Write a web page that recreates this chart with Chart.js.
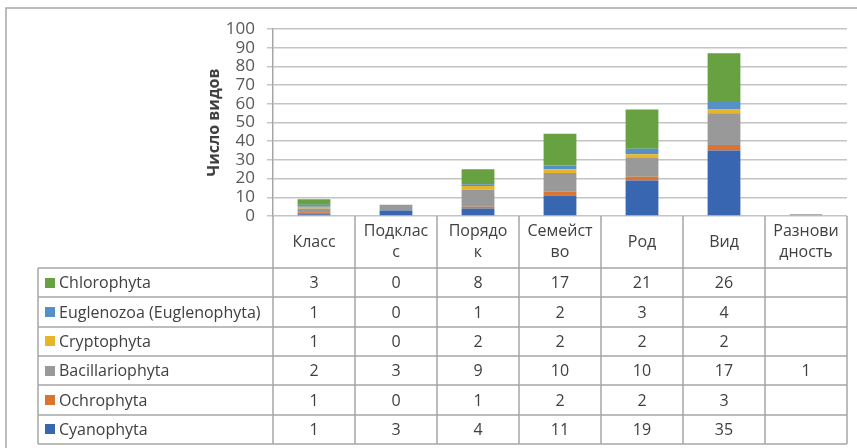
<!DOCTYPE html>
<html>
<head>
<meta charset="utf-8">
<script src="https://cdn.jsdelivr.net/npm/chart.js@4/dist/chart.umd.min.js"></script>
<style>
  html, body { margin: 0; padding: 0; background: #fff; }
  #wrap { width: 857px; height: 448px; position: relative; }
</style>
</head>
<body>
<div id="wrap"><canvas id="c" width="857" height="448"></canvas></div>
<script>
// ---- Data ----
const categories = ["Класс", "Подкласс", "Порядок", "Семейство", "Род", "Вид", "Разновидность"];
const categoryLabels = [["Класс"], ["Подклас", "с"], ["Порядо", "к"], ["Семейст", "во"], ["Род"], ["Вид"], ["Разнови", "дность"]];

const seriesNames = ["Cyanophyta", "Ochrophyta", "Bacillariophyta", "Cryptophyta", "Euglenozoa (Euglenophyta)", "Chlorophyta"];
const cyanophyta      = [1, 3, 4, 11, 19, 35, null];
const ochrophyta      = [1, 0, 1, 2, 2, 3, null];
const bacillariophyta = [2, 3, 9, 10, 10, 17, 1];
const cryptophyta     = [1, 0, 2, 2, 2, 2, null];
const euglenozoa      = [1, 0, 1, 2, 3, 4, null];
const chlorophyta     = [3, 0, 8, 17, 21, 26, null];
const seriesValues = [cyanophyta, ochrophyta, bacillariophyta, cryptophyta, euglenozoa, chlorophyta];
const seriesColors = ["#3966B0", "#DA7430", "#999999", "#E8B428", "#5590C8", "#67A142"];

const yTicks = [0, 10, 20, 30, 40, 50, 60, 70, 80, 90, 100];
const yTitle = "Число видов";

const FONT = "'Open Sans', 'DejaVu Sans', sans-serif";
const LINE = "#a6a6a6";
const TEXT = "#404040";

// ---- Data table + frame plugin ----
const tablePlugin = {
  id: 'dataTable',
  beforeDraw(chart) {
    const ctx = chart.ctx;
    ctx.save();
    ctx.strokeStyle = LINE;
    ctx.lineWidth = 1.5;
    ctx.beginPath();
    ctx.moveTo(6, chart.height);
    ctx.lineTo(6, 8);
    ctx.lineTo(chart.width, 8);
    ctx.stroke();
    ctx.restore();
  },
  afterDraw(chart) {
    const ctx = chart.ctx;
    const xs = chart.scales.x;
    const area = chart.chartArea;
    const n = categories.length;
    const colW = (area.right - area.left) / n;
    const top = area.bottom;
    const headerBottom = top + 52;
    const tableBottom = chart.height - 4;
    const rowH = (tableBottom - headerBottom) / seriesNames.length;
    const legendLeft = 38;

    ctx.save();
    ctx.strokeStyle = LINE;
    ctx.lineWidth = 1.5;
    ctx.beginPath();
    for (let i = 0; i <= n; i++) {
      const x = Math.round(area.left + i * colW);
      ctx.moveTo(x, top);
      ctx.lineTo(x, tableBottom);
    }
    ctx.moveTo(legendLeft, headerBottom);
    ctx.lineTo(legendLeft, tableBottom);
    for (let r = 0; r <= seriesNames.length; r++) {
      const y = Math.round(headerBottom + r * rowH);
      ctx.moveTo(legendLeft, y);
      ctx.lineTo(area.right, y);
    }
    ctx.stroke();

    ctx.fillStyle = TEXT;
    ctx.font = "16px " + FONT;
    ctx.textAlign = 'center';
    ctx.textBaseline = 'middle';
    categoryLabels.forEach((lines, i) => {
      const cx = xs.getPixelForValue(i);
      const cy = (top + headerBottom) / 2;
      const lh = 21;
      lines.forEach((t, k) => {
        ctx.fillText(t, cx, cy + (k - (lines.length - 1) / 2) * lh);
      });
    });
    for (let r = 0; r < seriesNames.length; r++) {
      const si = seriesNames.length - 1 - r;
      const cy = headerBottom + r * rowH + rowH / 2;
      ctx.fillStyle = seriesColors[si];
      ctx.fillRect(45, Math.round(cy - 5), 10, 10);
      ctx.fillStyle = TEXT;
      ctx.textAlign = 'left';
      ctx.fillText(seriesNames[si], 59, cy + 1);
      ctx.textAlign = 'center';
      seriesValues[si].forEach((v, i) => {
        if (v === null || v === undefined) return;
        ctx.fillText(String(v), xs.getPixelForValue(i), cy + 1);
      });
    }
    ctx.restore();
  }
};

new Chart(document.getElementById('c'), {
  type: 'bar',
  data: {
    labels: categories,
    datasets: seriesNames.map((name, i) => ({
      label: name,
      data: seriesValues[i],
      backgroundColor: seriesColors[i],
      borderWidth: 0,
      barPercentage: 0.4,
      categoryPercentage: 1.0
    }))
  },
  options: {
    responsive: false,
    animation: false,
    devicePixelRatio: 1,
    layout: { padding: { left: 200, right: 10, top: 29, bottom: 232 } },
    plugins: {
      legend: { display: false },
      tooltip: { enabled: false }
    },
    scales: {
      x: {
        stacked: true,
        display: false,
        offset: true
      },
      y: {
        stacked: true,
        min: 0,
        max: 100,
        afterBuildTicks(scale) { scale.ticks = yTicks.map(v => ({ value: v })); },
        afterFit(scale) { scale.width = 73; },
        ticks: {
          autoSkip: false,
          color: '#595959',
          font: { family: FONT, size: 17 },
          padding: 12
        },
        grid: {
          color: '#c4c4c4',
          lineWidth: 1.5,
          tickLength: 6,
          tickColor: '#c4c4c4'
        },
        border: { color: LINE, width: 1.5 },
        title: {
          display: true,
          text: yTitle,
          color: TEXT,
          font: { family: FONT, size: 16, weight: 'bold' },
          padding: { top: 5, bottom: 0 }
        }
      }
    }
  },
  plugins: [tablePlugin]
});
</script>
</body>
</html>
